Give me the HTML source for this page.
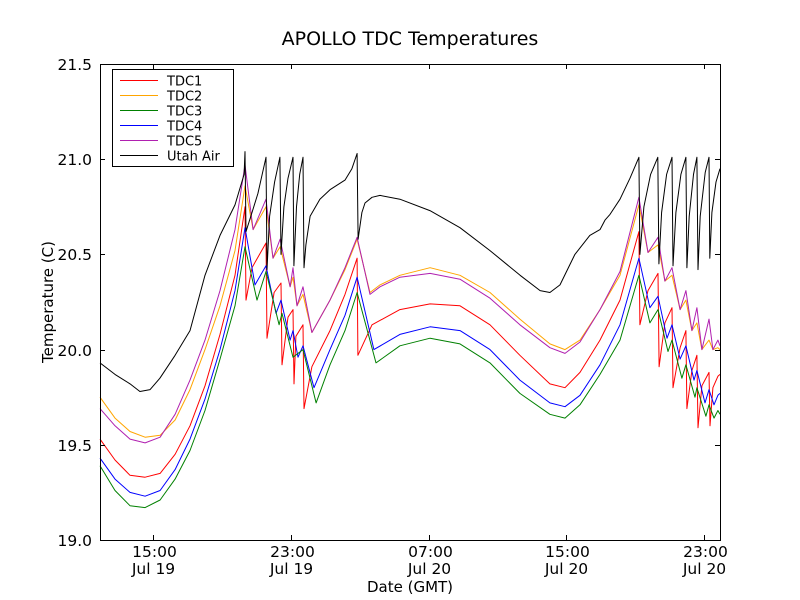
<!DOCTYPE html>
<html><head><meta charset="utf-8"><style>
html,body{margin:0;padding:0;background:#fff;}
svg{display:block;font-family:"DejaVu Sans","Liberation Sans",sans-serif;}
</style></head><body>
<svg id="chart" width="800" height="600" viewBox="0 0 800 600">
<rect x="0" y="0" width="800" height="600" fill="#fff"/>
<text x="410" y="45" font-size="19" text-anchor="middle">APOLLO TDC Temperatures</text>
<text transform="translate(53,302) rotate(-90)" font-size="15" text-anchor="middle">Temperature (C)</text>
<text x="410" y="592" font-size="15" text-anchor="middle">Date (GMT)</text>
<g id="series"></g>
<g id="axes"></g>
<rect x="100.5" y="64.5" width="620" height="476" fill="none" stroke="#000" stroke-width="1"/>
<g id="legend"></g>
</svg>
<script>
const xTicks = [15, 23, 31, 39, 47];
const xTickTimes = ["15:00", "23:00", "07:00", "15:00", "23:00"];
const xTickDates = ["Jul 19", "Jul 19", "Jul 20", "Jul 20", "Jul 20"];
const yTicks = [19.0, 19.5, 20.0, 20.5, 21.0, 21.5];
const seriesNames = ["TDC1", "TDC2", "TDC3", "TDC4", "TDC5", "Utah Air"];

const tdc1Hours = [11.92,12.79,13.66,14.54,15.41,16.28,17.15,18.02,18.89,19.76,20.34,20.40,20.75,21.56,21.62,22.03,22.43,22.49,22.84,23.13,23.19,23.30,23.71,23.77,24.23,25.28,26.15,26.85,26.90,27.72,29.34,31.09,32.83,34.57,36.31,38.05,38.93,39.80,40.96,42.12,43.22,43.28,43.75,44.33,44.39,44.73,45.14,45.20,45.61,45.95,46.01,46.30,46.59,46.65,46.88,47.29,47.35,47.52,47.81,47.93];
const tdc1Values = [19.53,19.42,19.34,19.33,19.35,19.45,19.60,19.81,20.08,20.39,20.75,20.26,20.43,20.56,20.06,20.30,20.35,19.92,20.17,20.21,19.82,20.07,20.13,19.69,19.91,20.10,20.29,20.48,19.97,20.13,20.21,20.24,20.23,20.13,19.97,19.82,19.80,19.88,20.05,20.26,20.62,20.13,20.31,20.40,19.91,20.14,20.22,19.80,20.01,20.10,19.69,19.89,19.97,19.59,19.81,19.88,19.60,19.80,19.86,19.87];

const tdc2Hours = [11.92,12.79,13.66,14.54,15.41,16.28,17.15,18.02,18.89,19.76,20.34,20.81,21.56,21.97,22.38,22.96,23.13,23.36,23.71,24.23,25.28,26.15,26.85,27.60,28.18,29.34,31.09,32.83,34.57,36.31,38.05,38.93,39.80,40.96,42.12,43.22,43.75,44.33,44.73,45.14,45.61,45.95,46.30,46.59,46.88,47.29,47.52,47.81,47.93];
const tdc2Values = [19.75,19.64,19.57,19.54,19.55,19.63,19.79,20.00,20.23,20.52,20.86,20.63,20.75,20.48,20.54,20.33,20.38,20.23,20.29,20.09,20.26,20.42,20.58,20.30,20.34,20.39,20.43,20.39,20.30,20.16,20.03,20.00,20.05,20.21,20.39,20.76,20.51,20.55,20.36,20.39,20.21,20.26,20.10,20.14,20.00,20.05,20.00,20.01,20.00];

const tdc3Hours = [11.92,12.79,13.66,14.54,15.41,16.28,17.15,18.02,18.89,19.76,20.34,21.04,21.56,22.32,22.49,23.13,23.71,24.47,25.28,26.15,26.85,27.95,29.34,31.09,32.83,34.57,36.31,38.05,38.93,39.80,40.96,42.12,43.22,43.86,44.33,44.91,45.14,45.72,45.95,46.48,46.59,47.11,47.29,47.58,47.81,47.93];
const tdc3Values = [19.39,19.26,19.18,19.17,19.21,19.32,19.47,19.68,19.95,20.23,20.54,20.26,20.41,20.13,20.19,19.96,20.00,19.72,19.92,20.10,20.30,19.93,20.02,20.06,20.03,19.93,19.77,19.66,19.64,19.71,19.87,20.05,20.39,20.14,20.21,19.99,20.05,19.85,19.92,19.75,19.80,19.65,19.71,19.64,19.68,19.66];

const tdc4Hours = [11.92,12.79,13.66,14.54,15.41,16.28,17.15,18.02,18.89,19.76,20.34,20.92,21.56,22.14,22.43,22.96,23.13,23.42,23.71,24.35,25.28,26.15,26.85,27.83,29.34,31.09,32.83,34.57,36.31,38.05,38.93,39.80,40.96,42.12,43.22,43.86,44.33,44.85,45.14,45.61,45.95,46.42,46.59,47.06,47.29,47.58,47.81,47.93];
const tdc4Values = [19.43,19.32,19.25,19.23,19.26,19.37,19.53,19.74,20.00,20.31,20.64,20.34,20.44,20.19,20.26,20.05,20.10,19.96,20.02,19.80,20.00,20.18,20.38,20.00,20.08,20.12,20.10,20.00,19.84,19.72,19.70,19.76,19.92,20.13,20.48,20.22,20.28,20.06,20.13,19.95,20.02,19.84,19.89,19.72,19.79,19.71,19.76,19.77];

const tdc5Hours = [11.92,12.79,13.66,14.54,15.41,16.28,17.15,18.02,18.89,19.76,20.34,20.81,21.56,21.97,22.38,22.96,23.13,23.36,23.71,24.23,25.28,26.15,26.85,27.60,28.18,29.34,31.09,32.83,34.57,36.31,38.05,38.93,39.80,40.96,42.12,43.22,43.75,44.33,44.73,45.14,45.61,45.95,46.30,46.59,46.88,47.29,47.52,47.81,47.93];
const tdc5Values = [19.69,19.60,19.53,19.51,19.54,19.66,19.84,20.05,20.31,20.63,20.97,20.63,20.79,20.48,20.58,20.33,20.43,20.23,20.33,20.09,20.26,20.43,20.59,20.29,20.33,20.38,20.40,20.37,20.27,20.13,20.01,19.98,20.04,20.21,20.41,20.80,20.51,20.59,20.36,20.43,20.21,20.31,20.10,20.22,20.00,20.16,20.00,20.05,20.02];

const airHours = [11.92,12.79,13.67,14.24,14.83,15.40,16.28,17.15,18.02,18.89,19.76,20.29,20.34,20.40,20.75,21.09,21.56,21.62,21.77,22.06,22.37,22.43,22.60,22.84,23.13,23.18,23.33,23.52,23.71,23.77,23.88,24.12,24.69,25.28,26.15,26.55,26.85,26.91,27.13,27.31,27.72,28.18,29.34,31.08,32.83,34.57,36.32,37.48,38.05,38.64,39.50,40.37,40.96,41.25,41.54,42.12,42.70,43.22,43.28,43.51,43.90,44.32,44.38,44.54,44.83,45.14,45.20,45.37,45.66,45.95,46.01,46.14,46.39,46.59,46.65,46.78,47.07,47.29,47.34,47.46,47.70,47.93];
const airValues = [19.93,19.87,19.82,19.78,19.79,19.85,19.97,20.10,20.39,20.60,20.76,20.92,21.04,20.62,20.72,20.82,21.01,20.42,20.70,20.88,21.01,20.50,20.75,20.90,21.01,20.44,20.75,20.92,21.01,20.43,20.55,20.70,20.79,20.84,20.89,20.95,21.03,20.58,20.72,20.77,20.80,20.81,20.79,20.73,20.64,20.52,20.39,20.31,20.30,20.34,20.50,20.60,20.63,20.68,20.71,20.79,20.90,21.01,20.50,20.75,20.92,21.01,20.45,20.72,20.92,21.01,20.44,20.72,20.92,21.01,20.43,20.70,20.92,21.01,20.42,20.70,20.93,21.01,20.48,20.72,20.88,20.95];

const X0 = 100, X1 = 720, Y0 = 540, Y1 = 64;
const xMin = 11.92, xMax = 47.93, yMin = 19.0, yMax = 21.5;
function xScale(h) { return X0 + (h - xMin) / (xMax - xMin) * (X1 - X0); }
function yScale(v) { return Y0 - (v - yMin) / (yMax - yMin) * (Y0 - Y1); }

const NS = "http://www.w3.org/2000/svg";
const seriesG = document.getElementById("series");
const axesG = document.getElementById("axes");
const legendG = document.getElementById("legend");

const allHours = [tdc1Hours, tdc2Hours, tdc3Hours, tdc4Hours, tdc5Hours, airHours];
const allValues = [tdc1Values, tdc2Values, tdc3Values, tdc4Values, tdc5Values, airValues];
const colors = ["#ff0000", "#ffa500", "#008000", "#0000ff", "#b020b0", "#000000"];
const drawOrder = [0, 1, 4, 3, 2, 5];

drawOrder.forEach(function (i) {
  const hs = allHours[i], vs = allValues[i];
  let d = "";
  for (let k = 0; k < hs.length; k++) {
    d += (k === 0 ? "M" : "L") + xScale(hs[k]).toFixed(1) + "," + yScale(vs[k]).toFixed(1);
  }
  const p = document.createElementNS(NS, "path");
  p.setAttribute("d", d);
  p.setAttribute("fill", "none");
  p.setAttribute("stroke", colors[i]);
  p.setAttribute("stroke-width", "1");
  p.setAttribute("stroke-linejoin", "round");
  
  
  seriesG.appendChild(p);
});

yTicks.forEach(function (v) {
  const y = Math.round(yScale(v)) + 0.5;
  const t1 = document.createElementNS(NS, "line");
  t1.setAttribute("x1", X0); t1.setAttribute("x2", X0 + 5);
  t1.setAttribute("y1", y); t1.setAttribute("y2", y);
  t1.setAttribute("stroke", "#000");
  
  
  axesG.appendChild(t1);
  const t2 = document.createElementNS(NS, "line");
  t2.setAttribute("x1", X1 - 5); t2.setAttribute("x2", X1);
  t2.setAttribute("y1", y); t2.setAttribute("y2", y);
  t2.setAttribute("stroke", "#000");
  
  
  axesG.appendChild(t2);
  const lbl = document.createElementNS(NS, "text");
  lbl.setAttribute("x", X0 - 8);
  lbl.setAttribute("y", y + 5.5);
  lbl.setAttribute("font-size", "15.5");
  lbl.setAttribute("text-anchor", "end");
  lbl.textContent = v.toFixed(1);
  
  
  axesG.appendChild(lbl);
});

xTicks.forEach(function (h, i) {
  const x = Math.round(xScale(h)) + 0.5;
  const t1 = document.createElementNS(NS, "line");
  t1.setAttribute("x1", x); t1.setAttribute("x2", x);
  t1.setAttribute("y1", Y0); t1.setAttribute("y2", Y0 - 5);
  t1.setAttribute("stroke", "#000");
  
  
  axesG.appendChild(t1);
  const t2 = document.createElementNS(NS, "line");
  t2.setAttribute("x1", x); t2.setAttribute("x2", x);
  t2.setAttribute("y1", Y1); t2.setAttribute("y2", Y1 + 5);
  t2.setAttribute("stroke", "#000");
  
  
  axesG.appendChild(t2);
  const l1 = document.createElementNS(NS, "text");
  l1.setAttribute("x", x + 1);
  l1.setAttribute("y", 557);
  l1.setAttribute("font-size", "15.5");
  l1.setAttribute("text-anchor", "middle");
  l1.textContent = xTickTimes[i];
  
  
  axesG.appendChild(l1);
  const l2 = document.createElementNS(NS, "text");
  l2.setAttribute("x", x);
  l2.setAttribute("y", 574);
  l2.setAttribute("font-size", "15.5");
  l2.setAttribute("text-anchor", "middle");
  l2.textContent = xTickDates[i];
  
  
  axesG.appendChild(l2);
});

const box = document.createElementNS(NS, "rect");
box.setAttribute("x", 112.5); box.setAttribute("y", 69.5);
box.setAttribute("width", 121); box.setAttribute("height", 97);
box.setAttribute("fill", "#fff"); box.setAttribute("stroke", "#000");


legendG.appendChild(box);
seriesNames.forEach(function (name, i) {
  const y = 80.5 + i * 15;
  const ln = document.createElementNS(NS, "line");
  ln.setAttribute("x1", 120); ln.setAttribute("x2", 158);
  ln.setAttribute("y1", y); ln.setAttribute("y2", y);
  ln.setAttribute("stroke", colors[i]);
  ln.setAttribute("stroke-width", "1");
  
  
  legendG.appendChild(ln);
  const tx = document.createElementNS(NS, "text");
  tx.setAttribute("x", 167); tx.setAttribute("y", y + 5);
  tx.setAttribute("font-size", "13");
  tx.textContent = name;
  
  
  legendG.appendChild(tx);
});
</script>
</body></html>
